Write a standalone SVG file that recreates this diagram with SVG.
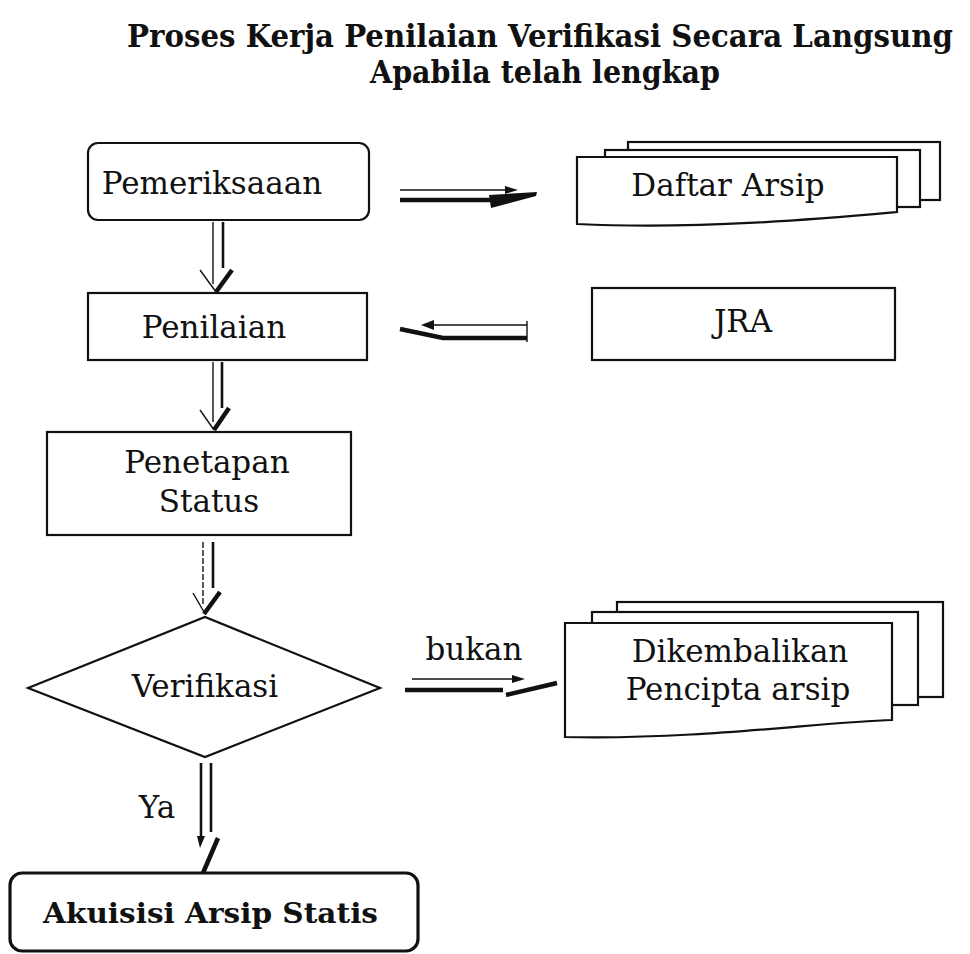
<svg xmlns="http://www.w3.org/2000/svg" width="970" height="954" viewBox="0 0 970 954">
<style>
text{font-family:"DejaVu Serif","Liberation Serif",serif;fill:#111;}
.lbl{font-size:31px;}
.ttl{font-size:28px;font-weight:bold;}
.box{fill:#fff;stroke:#111;stroke-width:2.2;}
.thin{fill:none;stroke:#111;stroke-width:1.4;}
.thick{fill:none;stroke:#111;stroke-width:4.5;stroke-linecap:butt;}
.mid{fill:none;stroke:#111;stroke-width:2.6;}
.head{fill:#111;stroke:none;}
</style>
<rect width="970" height="954" fill="#fff"/>
<g id="title">
<text class="ttl" transform="translate(127,47) scale(1,1.1)" x="0" y="0" textLength="826" lengthAdjust="spacingAndGlyphs">Proses Kerja Penilaian Verifikasi Secara Langsung</text>
<text class="ttl" transform="translate(370,83) scale(1,1.1)" x="0" y="0" textLength="350" lengthAdjust="spacingAndGlyphs">Apabila telah lengkap</text>
</g>
<g id="node-pemeriksaan">
<rect class="box" x="88" y="143" width="281" height="77" rx="10"/>
<text class="lbl" x="212" y="194" text-anchor="middle">Pemeriksaaan</text>
</g>
<g id="node-daftar-arsip">
<rect class="box" x="628" y="142" width="312" height="58"/>
<rect class="box" x="605" y="150" width="315" height="57"/>
<path class="box" d="M577 157 L897 157 L897 212 C830 218 700 230 577 224 Z"/>
<text class="lbl" x="728" y="196" text-anchor="middle">Daftar Arsip</text>
</g>
<g id="node-penilaian">
<rect class="box" x="88" y="293" width="279" height="67"/>
<text class="lbl" x="214" y="338" text-anchor="middle">Penilaian</text>
</g>
<g id="node-jra">
<rect class="box" x="592" y="288" width="303" height="72"/>
<text class="lbl" x="743" y="332" text-anchor="middle">JRA</text>
</g>
<g id="node-penetapan">
<rect class="box" x="47" y="432" width="304" height="103"/>
<text class="lbl" x="207" y="473" text-anchor="middle">Penetapan</text>
<text class="lbl" x="209" y="512" text-anchor="middle">Status</text>
</g>
<g id="node-verifikasi">
<polygon class="box" points="28,688 205,617 380,688 205,757"/>
<text class="lbl" x="205" y="697" text-anchor="middle">Verifikasi</text>
</g>
<g id="node-dikembalikan">
<rect class="box" x="617" y="602" width="326" height="95"/>
<rect class="box" x="592" y="612" width="326" height="93"/>
<path class="box" d="M565 623 L892 623 L892 720 C820 722 700 740 565 737 Z"/>
<text class="lbl" x="740" y="662" text-anchor="middle">Dikembalikan</text>
<text class="lbl" x="738" y="700" text-anchor="middle">Pencipta arsip</text>
</g>
<g id="node-akuisisi">
<rect x="10" y="873" width="408" height="78" rx="12" fill="#fff" stroke="#111" stroke-width="3.2"/>
<text class="ttl" x="43" y="923" font-size="30" textLength="335" lengthAdjust="spacingAndGlyphs">Akuisisi Arsip Statis</text>
</g>
<g id="connectors">
<path class="thin" d="M400 190 L507 190"/>
<polygon class="head" points="505,186 518,190 505,194"/>
<path class="thick" d="M400 200 L490 200" stroke-width="5.5"/>
<polygon class="head" points="489,195 537,192 536,196 491,208"/>
<path class="thin" d="M213 222 L213 284"/>
<path class="thin" d="M200 270 L216 292"/>
<path class="mid" d="M223 222 L223 268"/>
<path class="thick" d="M232 270 L216 292"/>
<path class="thin" d="M527 325 L430 325"/>
<polygon class="head" points="421,325 434,320 434,330"/>
<path class="thin" d="M527 321 L527 342"/>
<path class="thick" d="M527 338 L443 338 L400 329" stroke-linejoin="miter"/>
<path class="thin" d="M213 362 L213 422"/>
<path class="thin" d="M200 410 L214 430"/>
<path class="mid" d="M222 362 L222 408"/>
<path class="thick" d="M229 408 L214 430"/>
<path class="thin" d="M203 542 L203 606" stroke-dasharray="6 2"/>
<path class="thin" d="M193 593 L204 612"/>
<path class="mid" d="M213 542 L213 588"/>
<path class="thick" d="M220 592 L204 614"/>
<path class="thin" d="M412 679 L514 679"/>
<polygon class="head" points="512,675 525,679 512,683"/>
<path class="thick" d="M405 690 L503 690"/>
<path class="thick" d="M506 695 L557 683"/>
<text class="lbl" x="474" y="660" text-anchor="middle">bukan</text>
<path class="mid" d="M201 763 L201 838"/>
<polygon class="head" points="197,836 205,836 200,848"/>
<path class="mid" d="M211 763 L211 832"/>
<path class="thick" d="M218 838 L203 873"/>
<text class="lbl" x="157" y="818" text-anchor="middle">Ya</text>
</g>
</svg>
